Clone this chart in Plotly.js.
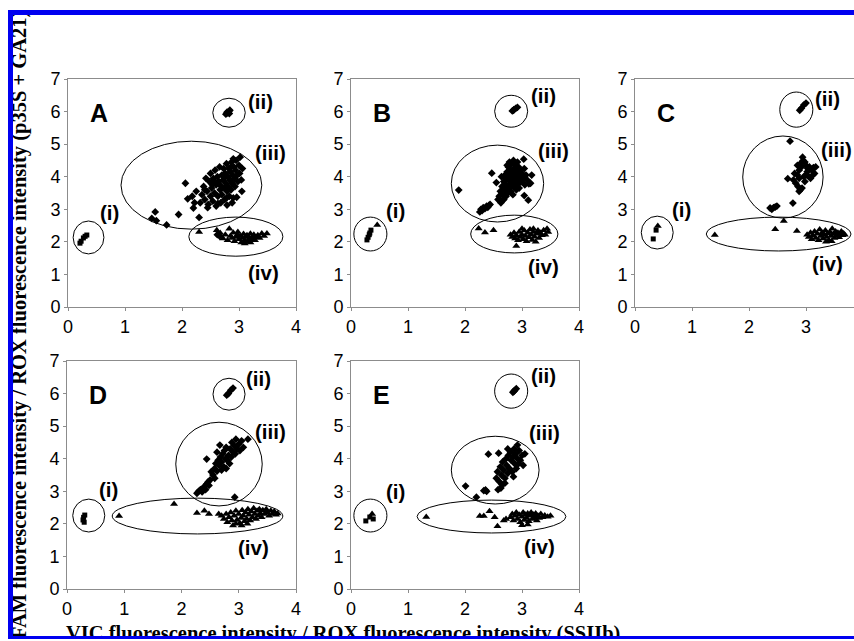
<!DOCTYPE html>
<html>
<head>
<meta charset="utf-8">
<script src="https://cdn.plot.ly/plotly-3.0.1.min.js"></script>
<style>
html,body{margin:0;padding:0;overflow:hidden;background:#fff;}
#wrap{position:relative;width:854px;height:641px;overflow:hidden;}
#chart{position:absolute;left:0;top:0;width:880px;height:641px;}
.ov{position:absolute;}
</style>
</head>
<body>
<div id="wrap">
<div id="chart"></div>
<div class="ov" style="left:0;top:0;width:854px;height:10px;background:#fff"></div>
<div class="ov" style="left:0;top:0;width:8px;height:641px;background:#fff"></div>
<div class="ov" style="left:0;top:639px;width:854px;height:2px;background:#fff"></div>
<div class="ov" style="left:8px;top:10px;width:846px;height:5px;background:#0000f0"></div>
<div class="ov" style="left:8px;top:10px;width:5px;height:629px;background:#0000f0"></div>
<div class="ov" style="left:8px;top:636px;width:846px;height:3px;background:#0000f0"></div>
</div>
<script>
// ---------------- DATA ----------------
const panelNames = ["A", "B", "C", "D", "E"];
const clusterNames = ["(i)", "(ii)", "(iii)", "(iv)"];
const xTicks = [0, 1, 2, 3, 4];
const yTicks = [0, 1, 2, 3, 4, 5, 6, 7];

// Panel A
const A_i_sq = [[0.21,1.96],[0.23,2.02],[0.27,2.12],[0.30,2.17],[0.33,2.21]];
const A_i_tri = [];
const A_ii = [[2.77,5.92],[2.80,5.96],[2.82,6.00],[2.84,6.04],[2.79,5.98],[2.83,5.94]];
const A_iii = [[1.47,2.72],[1.53,2.92],[1.55,2.65],[1.73,2.52],[1.94,2.84],[2.06,3.80],[2.10,3.32],[2.20,3.04],[2.30,2.75],[2.18,3.40],[2.25,3.55],[2.22,3.20],
[2.32,3.20],[2.35,3.45],[2.38,3.70],[2.40,3.30],[2.42,3.95],[2.44,3.55],[2.46,3.15],[2.48,3.85],[2.50,3.40],[2.50,4.10],[2.52,3.65],[2.54,3.25],[2.55,3.95],[2.57,3.50],[2.58,4.20],[2.60,3.75],[2.60,3.10],[2.62,4.00],[2.63,3.40],[2.65,3.85],[2.66,4.30],[2.67,3.60],[2.68,3.20],[2.70,4.05],[2.70,3.45],[2.72,3.90],[2.73,4.25],[2.74,3.65],[2.75,3.30],[2.76,4.10],[2.77,3.80],[2.78,4.40],[2.79,3.55],[2.80,4.00],[2.81,3.70],[2.82,4.25],[2.83,3.40],[2.84,3.90],[2.85,4.15],[2.86,3.60],[2.87,4.45],[2.88,3.80],[2.89,4.05],[2.90,3.35],[2.91,4.30],[2.92,3.95],[2.93,3.70],[2.94,4.20],[2.95,4.50],[2.96,3.37],[2.97,4.05],[2.98,3.85],[3.00,4.35],[3.01,4.10],[3.02,4.60],[3.04,3.90],[3.06,4.25],[2.79,3.13],[2.63,3.18],[2.45,3.05],[2.56,3.88],[2.68,3.72],[2.74,3.98],[2.86,4.30],[2.90,4.55],[2.53,3.75],[2.40,3.60],[2.78,3.35],[2.88,3.20],[3.05,3.55],[2.62,2.22],[2.66,2.18]];
const A_iv = [[2.30,2.30],[2.61,2.36],[2.67,2.27],[2.83,2.40],[2.72,2.10],[2.76,2.22],[2.80,2.05],[2.85,2.18],[2.88,2.12],[2.90,2.28],[2.92,2.02],[2.95,2.15],[2.97,2.22],[3.00,2.08],[3.02,2.18],[3.04,1.98],[3.06,2.12],[3.08,2.24],[3.10,2.05],[3.12,2.16],[3.14,2.20],[3.16,2.02],[3.18,2.12],[3.20,2.25],[3.22,2.08],[3.24,2.16],[3.26,2.22],[3.28,2.05],[3.30,2.14],[3.33,2.20],[3.36,2.12],[3.40,2.26],[3.44,2.18],[3.49,2.26],[3.10,1.95],[3.20,1.98],[2.98,2.30]];

// Panel B
const B_i_sq = [[0.28,2.06],[0.30,2.14],[0.32,2.22],[0.33,2.27],[0.35,2.36]];
const B_i_tri = [[0.46,2.52]];
const B_ii = [[2.83,6.02],[2.86,6.06],[2.89,6.10],[2.92,6.13],[2.85,6.04]];
const B_iii = [[1.89,3.59],[2.47,4.11],[2.55,3.82],[2.66,3.28],[3.03,4.54],[3.17,4.05],[3.15,3.80],[3.04,3.42],[3.11,3.28],
[2.26,2.92],[2.28,3.00],[2.30,2.96],[2.32,3.05],[2.35,3.02],[2.38,3.10],[2.42,3.12],[2.40,3.06],[2.44,3.15],
[2.62,3.55],[2.65,3.70],[2.66,3.45],[2.68,3.85],[2.70,3.60],[2.70,4.05],[2.72,3.95],[2.73,3.75],[2.74,4.15],[2.75,3.50],[2.76,4.30],[2.77,3.90],[2.78,4.05],[2.79,3.65],[2.80,4.20],[2.81,3.80],[2.82,4.40],[2.83,3.95],[2.84,4.10],[2.85,3.70],[2.86,4.25],[2.87,3.85],[2.88,4.00],[2.89,4.35],[2.90,3.75],[2.91,4.15],[2.92,3.90],[2.93,4.05],[2.94,4.30],[2.95,3.80],[2.96,3.95],[2.97,4.20],[2.98,4.00],[2.99,3.85],[3.00,4.10],[3.02,3.95],[3.04,4.25],[3.05,3.75],[3.07,4.05],[3.09,3.90],[3.12,3.78],[2.60,3.40],[2.58,3.30],[2.63,3.20],[2.68,3.30],[2.72,3.40],[2.76,3.60],[2.80,3.55],[2.84,3.45],[2.90,3.60],[2.95,3.65],[2.78,4.45],[2.85,4.50],[2.92,4.45],[2.74,4.35],[2.64,4.00]];
const B_iv = [[2.24,2.41],[2.35,2.29],[2.50,2.36],[2.80,2.22],[2.83,2.15],[2.86,2.28],[2.88,2.10],[2.90,2.20],[2.90,1.87],[2.93,2.05],[2.95,2.30],[2.97,2.15],[3.00,2.22],[3.02,2.08],[3.04,2.35],[3.06,2.18],[3.08,2.02],[3.10,2.28],[3.12,2.14],[3.14,2.38],[3.16,2.22],[3.18,2.06],[3.20,2.30],[3.22,2.16],[3.24,2.00],[3.26,2.25],[3.28,2.35],[3.30,2.12],[3.32,2.28],[3.35,2.20],[3.38,2.36],[3.41,2.22],[3.44,2.40],[3.46,2.30],[3.20,2.40],[3.00,2.40]];

// Panel C
const C_i_sq = [[0.32,2.09],[0.37,2.36]];
const C_i_tri = [[0.40,2.49]];
const C_ii = [[2.89,6.04],[2.92,6.10],[2.96,6.20],[3.00,6.26]];
const C_iii = [[2.72,5.09],[2.94,4.60],[2.37,3.04],[2.40,3.00],[2.43,3.05],[2.46,3.07],[2.49,3.10],[2.77,3.19],[2.68,3.94],
[2.85,4.35],[2.88,4.20],[2.90,4.40],[2.92,4.30],[2.95,4.50],[2.98,4.45],[3.00,4.35],[3.03,4.25],[3.06,4.30],[3.10,4.20],[3.13,4.28],[3.15,4.10],[3.17,4.30],[2.85,4.05],[2.88,3.95],[2.80,4.10],[2.78,3.90],[2.82,3.80],[2.86,3.70],[2.90,3.60],[2.88,3.55],[2.93,3.65],[2.96,4.00],[3.00,4.05],[3.05,4.00],[3.08,3.95],[3.12,4.05],[2.98,3.85],[3.02,4.15]];
const C_iv = [[1.40,2.21],[2.46,2.39],[2.61,2.64],[2.84,2.33],[3.02,2.22],[3.05,2.15],[3.08,2.28],[3.10,2.08],[3.12,2.20],[3.15,2.32],[3.17,2.12],[3.20,2.25],[3.22,2.05],[3.24,2.38],[3.26,2.18],[3.28,2.28],[3.30,2.10],[3.32,2.22],[3.34,2.35],[3.36,2.15],[3.38,2.26],[3.40,2.05],[3.42,2.30],[3.44,2.18],[3.46,2.40],[3.48,2.24],[3.50,2.12],[3.52,2.32],[3.54,2.20],[3.56,2.28],[3.58,2.14],[3.60,2.25],[3.62,2.32],[3.64,2.20],[3.66,2.26],[3.68,2.22],[3.35,2.00],[3.45,2.02]];

// Panel D
const D_i_sq = [[0.28,2.12],[0.29,2.20],[0.31,2.27],[0.30,2.05]];
const D_i_tri = [];
const D_ii = [[2.79,5.95],[2.82,6.00],[2.86,6.10],[2.90,6.17]];
const D_iii = [[2.27,2.94],[2.30,3.00],[2.33,3.05],[2.36,2.98],[2.38,3.10],[2.40,3.15],[2.42,3.05],[2.44,3.22],[2.46,3.28],[2.48,3.18],[2.50,3.35],[2.44,3.99],[2.52,3.60],[2.55,3.50],[2.58,3.70],[2.60,3.85],[2.62,3.62],[2.64,3.95],[2.67,4.42],[2.66,3.80],[2.68,4.05],[2.70,3.90],[2.72,4.15],[2.74,3.75],[2.75,4.25],[2.77,4.00],[2.78,4.35],[2.80,3.95],[2.82,4.10],[2.84,3.85],[2.85,4.30],[2.87,4.05],[2.88,4.50],[2.90,4.20],[2.92,4.40],[2.94,4.15],[2.95,4.60],[2.97,4.30],[3.00,4.45],[3.02,4.25],[3.05,4.55],[3.08,4.35],[3.16,4.60],[2.93,2.82],[2.58,3.40],[2.70,3.65],[2.62,4.20],[2.78,3.70]];
const D_iv = [[0.91,2.24],[1.87,2.61],[2.27,2.33],[2.40,2.40],[2.48,2.30],[2.65,2.30],[2.70,2.25],[2.74,2.15],[2.78,2.30],[2.80,2.05],[2.83,2.20],[2.86,2.35],[2.88,2.10],[2.90,1.95],[2.92,2.25],[2.95,2.40],[2.97,2.12],[3.00,2.30],[3.02,2.02],[3.04,2.18],[3.06,2.42],[3.08,2.25],[3.10,2.08],[3.12,2.35],[3.14,2.15],[3.16,2.45],[3.18,2.28],[3.20,2.10],[3.22,2.38],[3.24,2.20],[3.26,2.48],[3.28,2.30],[3.30,2.15],[3.32,2.40],[3.34,2.25],[3.36,2.45],[3.38,2.32],[3.40,2.20],[3.42,2.42],[3.45,2.30],[3.48,2.45],[3.50,2.35],[3.53,2.25],[3.56,2.40],[3.59,2.30],[3.62,2.38],[3.65,2.28],[3.68,2.32],[2.95,2.00],[3.05,1.95],[3.15,2.00]];

// Panel E
const E_i_sq = [[0.26,2.09],[0.33,2.21],[0.39,2.15]];
const E_i_tri = [[0.37,2.30]];
const E_ii = [[2.84,6.04],[2.87,6.10],[2.90,6.15],[2.86,6.07]];
const E_iii = [[2.01,3.16],[2.20,2.82],[2.36,3.04],[2.38,3.00],[2.33,3.02],[2.41,4.14],[2.59,4.17],[2.92,4.42],[2.63,3.10],[2.58,3.05],
[2.55,3.40],[2.57,3.60],[2.60,3.30],[2.62,3.75],[2.64,3.50],[2.66,3.90],[2.68,3.65],[2.70,3.40],[2.72,4.00],[2.73,3.80],[2.75,3.55],[2.76,4.10],[2.78,3.70],[2.80,4.20],[2.81,3.95],[2.83,3.60],[2.84,4.05],[2.86,4.30],[2.87,3.85],[2.89,4.15],[2.90,3.70],[2.92,4.00],[2.94,3.85],[2.95,4.25],[2.97,3.95],[3.00,4.10],[3.02,3.80],[3.05,4.15],[2.65,3.20],[2.70,3.25],[2.75,4.30],[2.85,3.45]];
const E_iv = [[1.32,2.21],[2.26,2.24],[2.33,2.24],[2.43,2.39],[2.52,2.20],[2.57,1.93],[2.72,2.15],[2.68,2.10],[2.80,2.20],[2.83,2.30],[2.85,2.10],[2.88,2.25],[2.90,2.35],[2.92,2.15],[2.95,2.28],[2.97,2.05],[3.00,2.22],[3.02,2.35],[3.04,2.12],[3.06,2.28],[3.08,2.18],[3.10,2.32],[3.12,2.08],[3.14,2.25],[3.16,2.35],[3.18,2.15],[3.20,2.28],[3.22,2.20],[3.24,2.32],[3.26,2.10],[3.28,2.25],[3.30,2.18],[3.33,2.30],[3.36,2.20],[3.40,2.26],[3.45,2.22],[3.50,2.25],[3.00,1.96],[3.10,1.98]];

const xTitle = "VIC fluorescence intensity / ROX fluorescence intensity (SSIIb)";
const yTitle = "FAM fluorescence intensity / ROX fluorescence intensity (p35S + GA21)";

// ---------------- LAYOUT / STYLE ----------------
const W = 880, H = 641;
const fx = p => p / W, fy = p => 1 - p / H;
const panels = [
  {name:"A", sq:A_i_sq, tri1:A_i_tri, ii:A_ii, iii:A_iii, iv:A_iv, px:[68,296], py:[79,307],
   ell:{i:[0.09,0.63,1.63,2.64], ii:[2.54,3.11,5.52,6.41], iii:[0.93,3.40,2.39,5.09], iv:[2.12,3.77,1.56,2.76]},
   lab:{i:[0.72,2.90], ii:[3.38,6.30], iii:[3.56,4.75], iv:[3.43,1.06]}},
  {name:"B", sq:B_i_sq, tri1:B_i_tri, ii:B_ii, iii:B_iii, iv:B_iv, px:[351,579], py:[79,307],
   ell:{i:[0.05,0.63,1.72,2.76], ii:[2.52,3.10,5.52,6.50], iii:[1.76,3.38,2.61,4.97], iv:[2.10,3.63,1.66,2.82]},
   lab:{i:[0.78,2.95], ii:[3.37,6.50], iii:[3.56,4.79], iv:[3.37,1.23]}},
  {name:"C", sq:C_i_sq, tri1:C_i_tri, ii:C_ii, iii:C_iii, iv:C_iv, px:[635,863], py:[79,307],
   ell:{i:[0.11,0.67,1.78,2.79], ii:[2.54,3.12,5.52,6.60], iii:[1.89,3.30,2.73,5.25], iv:[1.25,3.79,1.72,2.76]},
   lab:{i:[0.81,2.98], ii:[3.37,6.41], iii:[3.54,4.85], iv:[3.37,1.35]}},
  {name:"D", sq:D_i_sq, tri1:D_i_tri, ii:D_ii, iii:D_iii, iv:D_iv, px:[67,296], py:[361,589],
   ell:{i:[0.10,0.66,1.75,2.76], ii:[2.55,3.11,5.49,6.47], iii:[1.90,3.41,2.55,5.12], iv:[0.79,3.77,1.69,2.79]},
   lab:{i:[0.72,3.04], ii:[3.35,6.47], iii:[3.56,4.85], iv:[3.25,1.26]}},
  {name:"E", sq:E_i_sq, tri1:E_i_tri, ii:E_ii, iii:E_iii, iv:E_iv, px:[351,579], py:[361,589],
   ell:{i:[0.05,0.63,1.75,2.76], ii:[2.52,3.10,5.55,6.60], iii:[1.76,3.30,2.61,4.69], iv:[1.16,3.77,1.72,2.73]},
   lab:{i:[0.78,2.98], ii:[3.37,6.56], iii:[3.39,4.82], iv:[3.31,1.32]}}
];

const tickFont = {family:"Liberation Sans, Arial, sans-serif", size:18, color:"#000"};
const frame = "#8c8c8c";
const traces = [], shapes = [], annotations = [];
const layout = {
  width: W, height: H, margin:{l:0,r:0,t:0,b:0},
  paper_bgcolor:"#fff", plot_bgcolor:"#fff", showlegend:false,
  font:{family:"Liberation Sans, Arial, sans-serif", color:"#000"}
};

const xs = a => a.map(p => p[0]), ys = a => a.map(p => p[1]);
function sc(arr, sym, size, xa, ya){
  return {type:"scatter", mode:"markers", x:xs(arr), y:ys(arr), xaxis:xa, yaxis:ya,
    marker:{symbol:sym, size:size, color:"#000", line:{width:0}}, hoverinfo:"skip", cliponaxis:true};
}

panels.forEach((p, k) => {
  const n = k === 0 ? "" : String(k + 1);
  const xa = "x" + n, ya = "y" + n;
  layout["xaxis" + n] = {domain:[fx(p.px[0]), fx(p.px[1])], anchor:ya, range:[0,4], tickvals:xTicks,
    showline:true, mirror:true, linecolor:frame, linewidth:1, ticks:"outside", ticklen:3, tickcolor:frame,
    showgrid:false, zeroline:false, tickfont:tickFont, fixedrange:true};
  layout["yaxis" + n] = {domain:[fy(p.py[1]), fy(p.py[0])], anchor:xa, range:[0,7], tickvals:yTicks,
    showline:true, mirror:true, linecolor:frame, linewidth:1, ticks:"outside", ticklen:3, tickcolor:frame,
    showgrid:false, zeroline:false, tickfont:tickFont, fixedrange:true};
  traces.push(sc(p.iv, "triangle-up", 7, xa, ya));
  traces.push(sc(p.iii, "diamond", 6, xa, ya));
  traces.push(sc(p.ii, "diamond", 6, xa, ya));
  traces.push(sc(p.sq, "square", 5, xa, ya));
  if (p.tri1.length) traces.push(sc(p.tri1, "triangle-up", 7, xa, ya));
  ["i","ii","iii","iv"].forEach((c, j) => {
    const e = p.ell[c];
    shapes.push({type:"circle", xref:xa, yref:ya, x0:e[0], x1:e[1], y0:e[2], y1:e[3],
      line:{color:"#000", width:1}, fillcolor:"rgba(0,0,0,0)"});
    annotations.push({xref:xa, yref:ya, x:p.lab[c][0], y:p.lab[c][1], text:"<b>"+clusterNames[j]+"</b>",
      showarrow:false, font:{family:"Liberation Sans, Arial, sans-serif", size:20.5, color:"#000"}});
  });
  annotations.push({xref:xa, yref:ya, x:0.54, y:5.95, text:"<b>"+panelNames[k]+"</b>", showarrow:false,
    font:{family:"Liberation Sans, Arial, sans-serif", size:25, color:"#000"}});
});

annotations.push({xref:"paper", yref:"paper", x:fx(343), y:fy(633.5), xanchor:"center", yanchor:"middle",
  text:"<b>"+xTitle+"</b>", showarrow:false, font:{family:"Liberation Serif, Times New Roman, serif", size:20.5, color:"#000"}});
annotations.push({xref:"paper", yref:"paper", x:fx(20), y:fy(325), xanchor:"center", yanchor:"middle", textangle:-90,
  text:"<b>"+yTitle+"</b>", showarrow:false, font:{family:"Liberation Serif, Times New Roman, serif", size:20.5, color:"#000"}});

layout.shapes = shapes;
layout.annotations = annotations;
Plotly.newPlot("chart", traces, layout, {staticPlot:true, displayModeBar:false});
</script>
</body>
</html>
